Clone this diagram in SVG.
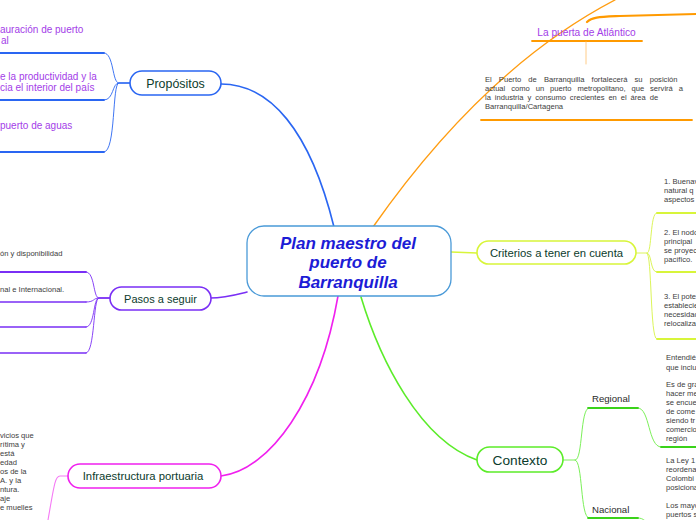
<svg xmlns="http://www.w3.org/2000/svg" width="696" height="520" viewBox="0 0 696 520">
<style>
text{font-family:"Liberation Sans",Arial,sans-serif}
.lbl{fill:#0b3b2c}
.sm{font-size:7.6px;fill:#3c3c3c}
.pur{font-size:10px;fill:#a33de8}
.node{fill:#fff;stroke-width:1.6}
.c{fill:none;stroke-linecap:round}
</style>
<rect width="696" height="520" fill="#fff"/>
<g id="connectors">
  <path class="c" d="M221,84 C270,84 310,130 334,227" stroke="#2a66f2" stroke-width="1.6"/>
  <path class="c" d="M373,227 C420,160 500,60 615,0" stroke="#ff9d12" stroke-width="1.4"/>
  <path class="c" d="M451,252 L477,253" stroke="#d8f53a" stroke-width="1.6"/>
  <path class="c" d="M361,297 C380,360 420,440 477,460" stroke="#5cec2a" stroke-width="1.6"/>
  <path class="c" d="M221,476 C270,470 320,400 338,296" stroke="#f020ee" stroke-width="1.6"/>
  <path class="c" d="M210,298 C225,298 235,295 247,292" stroke="#7a2ff5" stroke-width="1.6"/>
  <g stroke="#2a66f2" class="c">
    <path d="M130,83 L119,83 C112,83 114,53 104,53" stroke-width="0.9"/>
    <path d="M104,53 L0,53" stroke-width="1.8"/>
    <path d="M130,83 L119,83 C112,83 114,100 104,100" stroke-width="0.9"/>
    <path d="M104,100 L0,100" stroke-width="1.8"/>
    <path d="M130,83 L119,83 C112,83 116,152 104,152" stroke-width="0.9"/>
    <path d="M104,152 L0,152" stroke-width="1.8"/>
  </g>
  <g stroke="#7a2ff5" class="c">
    <path d="M110,298 L99,298 C93,298 95,272 86,272" stroke-width="0.9"/>
    <path d="M86,272 L0,272" stroke-width="1.8"/>
    <path d="M110,298 L99,298 C93,298 95,302 86,302" stroke-width="0.9"/>
    <path d="M86,302 L0,302" stroke-width="1.6"/>
    <path d="M110,298 L99,298 C93,298 95,327 86,327" stroke-width="0.9"/>
    <path d="M86,327 L0,327" stroke-width="1.6"/>
    <path d="M110,298 L99,298 C93,298 95,353 86,353" stroke-width="0.9"/>
    <path d="M86,353 L0,353" stroke-width="1.6"/>
  </g>
  <path class="c" d="M68,476 L60,476 C55,476 54,486 48,520" stroke="#f57af5" stroke-width="1.1"/>
  <g stroke="#dcf55a" class="c">
    <path d="M636,253 L647,253 C652,253 650,213 657,213 L696,213" stroke-width="1"/>
    <path d="M647,253 C652,253 650,272 657,272 L696,272" stroke-width="1"/>
    <path d="M647,253 C652,253 650,339 657,339 L696,339" stroke-width="1"/>
  </g>
  <g stroke="#d8f53a" class="c" stroke-width="1.8">
    <path d="M657,213 L696,213"/>
    <path d="M657,272 L696,272"/>
    <path d="M657,339 L696,339"/>
  </g>
  <g class="c" stroke="#7cf05a" stroke-width="1">
    <path d="M563,460 L575,460 C583,460 580,408 589,408"/>
    <path d="M575,460 C583,460 580,518 589,518"/>
    <path d="M638,408 C650,408 648,447 661,447"/>
    <path d="M638,518 C644,518 646,522 650,526"/>
  </g>
  <g class="c" stroke="#3ad21a" stroke-width="1.8">
    <path d="M588,408 L638,408"/>
    <path d="M588,518 L638,518"/>
    <path d="M661,447 L696,447"/>
  </g>
  <path class="c" d="M587,22 C592,17 600,17 620,16 L696,14" stroke="#ff9a00" stroke-width="2.2"/>
  <path class="c" d="M532,41 L642,41" stroke="#ff9a00" stroke-width="1.8"/>
  <path class="c" d="M586,42 L586,64" stroke="#ffcc88" stroke-width="1"/>
  <path class="c" d="M481,120 L692,120" stroke="#ff9a00" stroke-width="1.8"/>
</g>
<g id="center">
  <rect x="247" y="226" width="204" height="70" rx="17" fill="#fff" stroke="#4a9ad8" stroke-width="1.3"/>
  <g font-size="17" font-weight="bold" font-style="italic" fill="#1c1cd6" text-anchor="middle">
    <text x="348" y="249">Plan maestro del</text>
    <text x="348" y="268">puerto de</text>
    <text x="348" y="288">Barranquilla</text>
  </g>
</g>
<g id="propositos">
  <rect class="node" x="130" y="71" width="91" height="24" rx="12" stroke="#2a66f2"/>
  <text class="lbl" x="175.5" y="87.5" font-size="12.4" text-anchor="middle">Propósitos</text>
  <text class="pur" x="0" y="33">auración de puerto</text>
  <text class="pur" x="1" y="44">al</text>
  <text class="pur" x="0" y="79.5">e la productividad y la</text>
  <text class="pur" x="0" y="90.5">cia el interior del país</text>
  <text class="pur" x="0" y="129">puerto de aguas</text>
</g>
<g id="pasos">
  <rect class="node" x="110" y="287" width="101" height="23" rx="11.5" stroke="#7a2ff5"/>
  <text class="lbl" x="160.5" y="302.5" font-size="11" text-anchor="middle">Pasos a seguir</text>
  <text class="sm" x="0" y="256">ón y disponibilidad</text>
  <text class="sm" x="0" y="292">nal e Internacional.</text>
</g>
<g id="infraestructura">
  <rect class="node" x="68" y="464" width="153" height="24" rx="12" stroke="#f020ee"/>
  <text class="lbl" x="143" y="480" font-size="11.3" text-anchor="middle">Infraestructura portuaria</text>
  <g class="sm">
    <text x="0" y="438">vicios que</text>
    <text x="0" y="447">rítima y</text>
    <text x="0" y="456">está</text>
    <text x="0" y="465">edad</text>
    <text x="0" y="474">os de la</text>
    <text x="0" y="483">A. y la</text>
    <text x="0" y="492">ntura.</text>
    <text x="0" y="501">aje</text>
    <text x="0" y="510">e muelles</text>
  </g>
</g>
<g id="criterios">
  <rect class="node" x="477" y="241" width="159" height="23" rx="11.5" stroke="#d8f53a"/>
  <text class="lbl" x="556.5" y="256.5" font-size="11.3" text-anchor="middle">Criterios a tener en cuenta</text>
  <g class="sm">
    <text x="664" y="184">1. Buenav</text>
    <text x="664" y="193">natural q</text>
    <text x="664" y="202">aspectos</text>
    <text x="664" y="234.5">2. El nodo</text>
    <text x="664" y="243.5">principal</text>
    <text x="664" y="252.5">se proyec</text>
    <text x="664" y="261.5">pacífico.</text>
    <text x="664" y="299">3. El pote</text>
    <text x="664" y="308">establecie</text>
    <text x="664" y="317">necesidad</text>
    <text x="664" y="326">relocaliza</text>
  </g>
</g>
<g id="contexto">
  <rect class="node" x="477" y="447" width="86" height="25" rx="12.5" stroke="#5cec2a"/>
  <text class="lbl" x="520" y="464.5" font-size="13.7" text-anchor="middle">Contexto</text>
</g>
<g id="regional">
  <text x="592" y="402" font-size="9.6" fill="#2a2a2a">Regional</text>
  <g class="sm">
    <text x="666" y="360">Entendié</text>
    <text x="666" y="369.5">que inclu</text>
    <text x="666" y="387">Es de gra</text>
    <text x="666" y="396">hacer me</text>
    <text x="666" y="405">se encue</text>
    <text x="666" y="414">de come</text>
    <text x="666" y="423">siendo tr</text>
    <text x="666" y="432">comercio</text>
    <text x="666" y="441">región</text>
  </g>
</g>
<g id="nacional">
  <text x="592" y="513" font-size="9.6" fill="#2a2a2a">Nacional</text>
  <g class="sm">
    <text x="666" y="463">La Ley 1</text>
    <text x="666" y="472">reordena</text>
    <text x="666" y="481">Colombi</text>
    <text x="666" y="490">posiciona</text>
    <text x="666" y="508">Los mayo</text>
    <text x="666" y="517">puertos s</text>
  </g>
</g>
<g id="puerta">
  <text x="586.5" y="35.5" font-size="10.2" fill="#a33de8" text-anchor="middle">La puerta de Atlántico</text>
  <g class="sm">
    <text x="485" y="82" word-spacing="5">El Puerto de Barranquilla fortalecerá su posición</text>
    <text x="485" y="91" word-spacing="3.8">actual como un puerto metropolitano, que servirá a</text>
    <text x="485" y="100" word-spacing="1.8">la industria y consumo crecientes en el área de</text>
    <text x="485" y="109">Barranquilla/Cartagena</text>
  </g>
</g>
</svg>
